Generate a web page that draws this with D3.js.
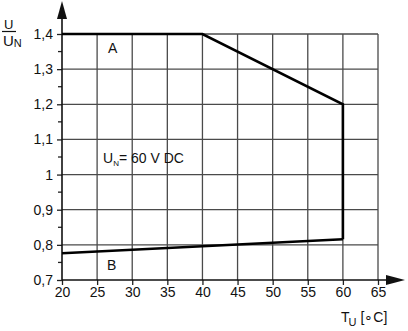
<!DOCTYPE html>
<html>
<head>
<meta charset="utf-8">
<script src="https://cdn.jsdelivr.net/npm/d3@7"></script>
<style>
  body { margin: 0; background: #fff; }
  svg text { font-family: "Liberation Sans", Arial, sans-serif; fill: #111; }
</style>
</head>
<body>
<div id="chart"></div>
<script>
// temperature ticks and voltage ticks
var xTicks = [20, 25, 30, 35, 40, 45, 50, 55, 60, 65];
var yTicks = [0.7, 0.8, 0.9, 1.0, 1.1, 1.2, 1.3, 1.4];
var yMinor = [0.75, 0.85, 0.95, 1.05, 1.15, 1.25, 1.35];
var yTickLabels = ["0,7", "0,8", "0,9", "1", "1,1", "1,2", "1,3", "1,4"];

// curve A (upper limit) and curve B (lower limit)
var curveA = [
  { t: 20, u: 1.4 },
  { t: 40, u: 1.4 },
  { t: 60, u: 1.2 },
  { t: 60, u: 0.816 }
];
var curveB = [
  { t: 20, u: 0.776 },
  { t: 60, u: 0.816 }
];

var width = 408, height = 331;
var margin = { left: 62, top: 34, right: 30, bottom: 51 };

var svg = d3.select("#chart").append("svg")
  .attr("width", width)
  .attr("height", height);

var x = d3.scaleLinear().domain([20, 65]).range([margin.left, width - margin.right]);
var y = d3.scaleLinear().domain([0.7, 1.4]).range([height - margin.bottom, margin.top]);

var gridColor = "#4a4a4a";

// vertical grid
svg.append("g")
  .selectAll("line")
  .data(xTicks.slice(1))
  .enter()
  .append("line")
  .attr("x1", d => x(d))
  .attr("x2", d => x(d))
  .attr("y1", y(0.7))
  .attr("y2", y(1.4))
  .attr("stroke", gridColor)
  .attr("stroke-width", 1.3);

// horizontal grid
svg.append("g")
  .selectAll("line")
  .data(yTicks.slice(1))
  .enter()
  .append("line")
  .attr("x1", x(20))
  .attr("x2", x(65))
  .attr("y1", d => y(d))
  .attr("y2", d => y(d))
  .attr("stroke", gridColor)
  .attr("stroke-width", 1.3);

// y axis with major + minor ticks
var yAxis = svg.append("g")
  .attr("transform", "translate(" + x(20) + ",0)")
  .call(d3.axisLeft(y).tickValues(yTicks).tickSize(5).tickPadding(4)
    .tickFormat((d, i) => yTickLabels[i]));
yAxis.select(".domain").remove();
yAxis.selectAll("line").attr("stroke", "#222").attr("stroke-width", 1.3);
yAxis.selectAll("text").style("font-size", "14px");

svg.append("g")
  .selectAll("line")
  .data(yMinor)
  .enter()
  .append("line")
  .attr("x1", x(20) - 4)
  .attr("x2", x(20))
  .attr("y1", d => y(d))
  .attr("y2", d => y(d))
  .attr("stroke", "#222")
  .attr("stroke-width", 1.3);

// x axis
var xAxis = svg.append("g")
  .attr("transform", "translate(0," + y(0.7) + ")")
  .call(d3.axisBottom(x).tickValues(xTicks).tickSize(5).tickPadding(2));
xAxis.select(".domain").remove();
xAxis.selectAll("line").attr("stroke", "#222").attr("stroke-width", 1.3);
xAxis.selectAll("text").style("font-size", "14px");

// axis lines with arrows
svg.append("line")
  .attr("x1", x(20)).attr("x2", x(20))
  .attr("y1", y(0.7)).attr("y2", 18)
  .attr("stroke", "#111").attr("stroke-width", 1.6);
svg.append("path")
  .attr("d", "M" + (x(20) - 5) + ",19 L" + x(20) + ",1 L" + (x(20) + 5) + ",19 Z")
  .attr("fill", "#111");

svg.append("line")
  .attr("x1", x(20)).attr("x2", 388)
  .attr("y1", y(0.7)).attr("y2", y(0.7))
  .attr("stroke", "#111").attr("stroke-width", 1.6);
svg.append("path")
  .attr("d", "M386," + (y(0.7) - 5) + " L405," + y(0.7) + " L386," + (y(0.7) + 5) + " Z")
  .attr("fill", "#111");

// curves
var line = d3.line().x(d => x(d.t)).y(d => y(d.u));
svg.append("path").datum(curveA)
  .attr("d", line)
  .attr("fill", "none")
  .attr("stroke", "#000")
  .attr("stroke-width", 2.6);
svg.append("path").datum(curveB)
  .attr("d", line)
  .attr("fill", "none")
  .attr("stroke", "#000")
  .attr("stroke-width", 2.6);

// labels
svg.append("text").attr("x", 108).attr("y", 53).text("A").style("font-size", "14px");
svg.append("text").attr("x", 107).attr("y", 270).text("B").style("font-size", "14px");

var un = svg.append("text").attr("x", 103).attr("y", 163).style("font-size", "14px");
un.append("tspan").text("U");
un.append("tspan").attr("dy", 3).style("font-size", "8px").text("N");
un.append("tspan").attr("dy", -3).text("= 60 V DC");

// y label: U / U_N
svg.append("text").attr("x", 4).attr("y", 29).text("U").style("font-size", "13px");
svg.append("line").attr("x1", 2).attr("x2", 16).attr("y1", 31.5).attr("y2", 31.5)
  .attr("stroke", "#111").attr("stroke-width", 1.2);
var yl = svg.append("text").attr("x", 3).attr("y", 46).style("font-size", "15px");
yl.append("tspan").text("U");
yl.append("tspan").attr("dy", 1).style("font-size", "11px").text("N");

// x label: T_U [°C]
var xl = svg.append("text").attr("x", 341).attr("y", 322).style("font-size", "14px");
xl.append("tspan").text("T");
xl.append("tspan").attr("dy", 4).attr("dx", -1).style("font-size", "11px").text("U");
xl.append("tspan").attr("dy", -4).text(" [\u2218C]");
</script>
</body>
</html>
